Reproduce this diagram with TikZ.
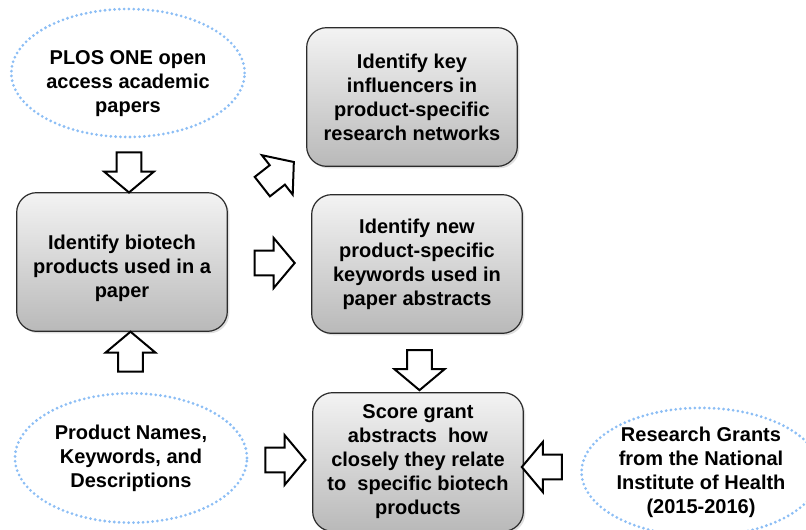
\documentclass[tikz,border=0pt]{standalone}
\usepackage{fontspec}
\setmainfont{Liberation Sans}
\usepackage{xcolor}
\usepackage{tikz}
\usetikzlibrary{shapes.geometric, shapes.arrows, calc, shadows}
\definecolor{contour}{HTML}{2B2B2B}
\definecolor{pointille}{HTML}{8CBEF5}
\definecolor{hautgris}{HTML}{F3F3F3}
\definecolor{basgris}{HTML}{B9B9B9}

\begin{document}
\begin{tikzpicture}[x=0.75pt, y=-0.75pt,
    every node/.style={font=\fontsize{15}{18}\selectfont\bfseries, align=center, text=black},
    etape/.style={rectangle, rounded corners=15pt, draw=contour, line width=0.9pt,
      top color=hautgris, bottom color=basgris, minimum width=158pt, minimum height=104pt,
      drop shadow={opacity=0.25, shadow xshift=1.5pt, shadow yshift=-1.5pt}},
    source/.style={ellipse, draw=pointille, line width=2.3pt, line cap=round,
      dash pattern=on 0pt off 3.6pt, inner sep=0pt},
    fleche/.style={single arrow, draw=black, fill=white, line width=1.5pt,
      inner xsep=0pt, inner ysep=8.5pt, minimum height=30pt,
      single arrow head extend=9.5pt, single arrow tip angle=100}]
    \useasboundingbox (0,0) rectangle (806,529);

    % sources
    \node[source, minimum width=175pt, minimum height=96pt] (plos) at (128,73)
      {\rule{0pt}{26pt}PLOS ONE open\\access academic\\papers};
    \node[source, minimum width=174pt, minimum height=97pt] (produits) at (131,458)
      {Product Names,\\Keywords, and\\Descriptions};
    \node[source, minimum width=178pt, minimum height=94pt] (bourses) at (701,472)
      {Research Grants\\from the National\\Institute of Health\\(2015-2016)};

    % etapes
    \node[etape] (biotech) at (122,262) {\rule{0pt}{20pt}Identify biotech\\products used in a\\paper};
    \node[etape] (influence) at (412,97) {Identify key\\influencers in\\product-specific\\research networks};
    \node[etape] (motscles) at (417,264) {Identify new\\product-specific\\keywords used in\\paper abstracts};
    \node[etape] (score) at (418,462) {Score grant\\abstracts\ \ how\\closely they relate\\to\ \ specific biotech\\products};

    % fleches
    \node[fleche, rotate=-90] (f1) at ($(plos.south)!0.5!(biotech.north)+(4,2)$) {};
    \node[fleche, rotate=90] (f2) at ($(produits.north)!0.5!(biotech.south)+(4,-5)$) {};
    \node[fleche] (f3) at ($(biotech.east)!0.5!(motscles.west)$) {};
    \node[fleche, rotate=38] (f4) at ($(biotech.north east)!0.5!(influence.south west)+(7,-2)$) {};
    \node[fleche, rotate=-90] (f5) at ($(motscles.south)!0.5!(score.north)+(2,2)$) {};
    \node[fleche] (f6) at ($(produits.east)!0.5!(score.west)$) {};
    \node[fleche, rotate=180] (f7) at ($(bourses.west)!0.5!(score.east)+(-5,0)$) {};
  \end{tikzpicture}
\end{document}
